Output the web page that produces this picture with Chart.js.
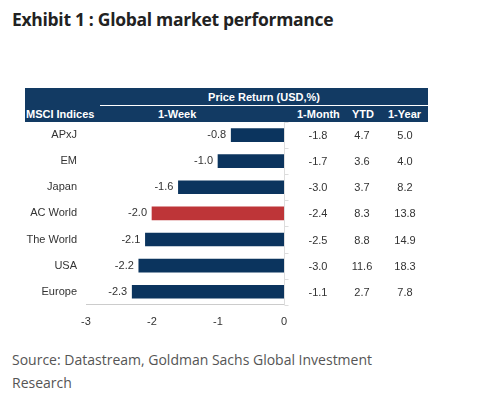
<!DOCTYPE html>
<html><head><meta charset="utf-8">
<script src="https://cdn.jsdelivr.net/npm/chart.js@4"></script>
<style>
body{margin:0;background:#fff;width:477px;height:407px;position:relative;overflow:hidden;font-family:"Liberation Sans",Arial,sans-serif}
#title{position:absolute;left:12px;top:7px;font-family:"Open Sans";font-weight:700;font-size:17.5px;color:#222;letter-spacing:-0.3px}
#hdr{position:absolute;left:25px;top:88px;width:403px;height:34px;background:#123a63;color:#fff;font-weight:700;font-size:11px}
#hdr div{position:absolute}
#src{position:absolute;left:12px;top:348px;font-family:"Open Sans";font-size:14px;line-height:23px;color:#555}
#wrap{position:absolute;left:0;top:122px;width:477px;height:210px}
</style></head><body>
<div id="title">Exhibit 1 : Global market performance</div>
<div id="hdr">
<div style="left:75px;width:328px;top:3px;text-align:center">Price Return (USD,%)</div>
<div style="left:75px;width:328px;top:17px;height:1px;background:#fff"></div>
<div style="left:1px;top:20px">MSCI Indices</div>
<div style="left:133px;top:20px">1-Week</div>
<div style="left:272px;top:20px">1-Month</div>
<div style="left:327px;top:20px">YTD</div>
<div style="left:363px;top:20px">1-Year</div>
</div>
<div id="wrap"><canvas id="c"></canvas></div>
<div id="src">Source: Datastream, Goldman Sachs Global Investment<br>Research</div>
<script>
const categories=["APxJ","EM","Japan","AC World","The World","USA","Europe"];
const week=[-0.8,-1.0,-1.6,-2.0,-2.1,-2.2,-2.3];
const month=["-1.8","-1.7","-3.0","-2.4","-2.5","-3.0","-1.1"];
const ytd=["4.7","3.6","3.7","8.3","8.8","11.6","2.7"];
const year=["5.0","4.0","8.2","13.8","14.9","18.3","7.8"];
const colors=categories.map(c=>c==="AC World"?"#be3538":"#0b345e");
const txt={id:"txt",afterDatasetsDraw(ch){
 const ctx=ch.ctx,y=ch.scales.y,x=ch.scales.x;
 ctx.save();ctx.font="11px 'Liberation Sans',Arial";ctx.fillStyle="#333";ctx.textBaseline="middle";
 categories.forEach((c,i)=>{const py=y.getPixelForValue(i);
  ctx.textAlign="right";ctx.fillText(c,77,py);
  ctx.fillText(week[i].toFixed(1),x.getPixelForValue(week[i])-5,py);
  ctx.textAlign="center";ctx.fillText(month[i],318,py+1);ctx.fillText(ytd[i],362,py+1);ctx.fillText(year[i],405,py+1);
 });
 ctx.strokeStyle="#ddd";ctx.lineWidth=1;const x0=Math.round(x.getPixelForValue(0))+0.5;
 ctx.beginPath();ctx.moveTo(x0,ch.chartArea.top);ctx.lineTo(x0,ch.chartArea.bottom);
 for(let i=0;i<=categories.length;i++){const py=Math.round(ch.chartArea.top+i*(ch.chartArea.bottom-ch.chartArea.top)/categories.length)+0.5;ctx.moveTo(x0,py);ctx.lineTo(x0+4,py);}
 ctx.stroke();ctx.restore();}};
new Chart(document.getElementById("c"),{type:"bar",
 data:{labels:categories,datasets:[{data:week,backgroundColor:colors,barThickness:13}]},
 options:{indexAxis:"y",responsive:true,maintainAspectRatio:false,animation:false,
  layout:{padding:{left:86,right:193,top:0,bottom:0}},
  plugins:{legend:{display:false},tooltip:{enabled:false}},
  scales:{y:{display:false},
   x:{min:-3,max:0,ticks:{stepSize:1,color:"#333",font:{size:11,family:"'Liberation Sans',Arial"}},
    grid:{display:false,drawTicks:true},border:{color:"#ccc"}}}},
 plugins:[txt]});
</script></body></html>
